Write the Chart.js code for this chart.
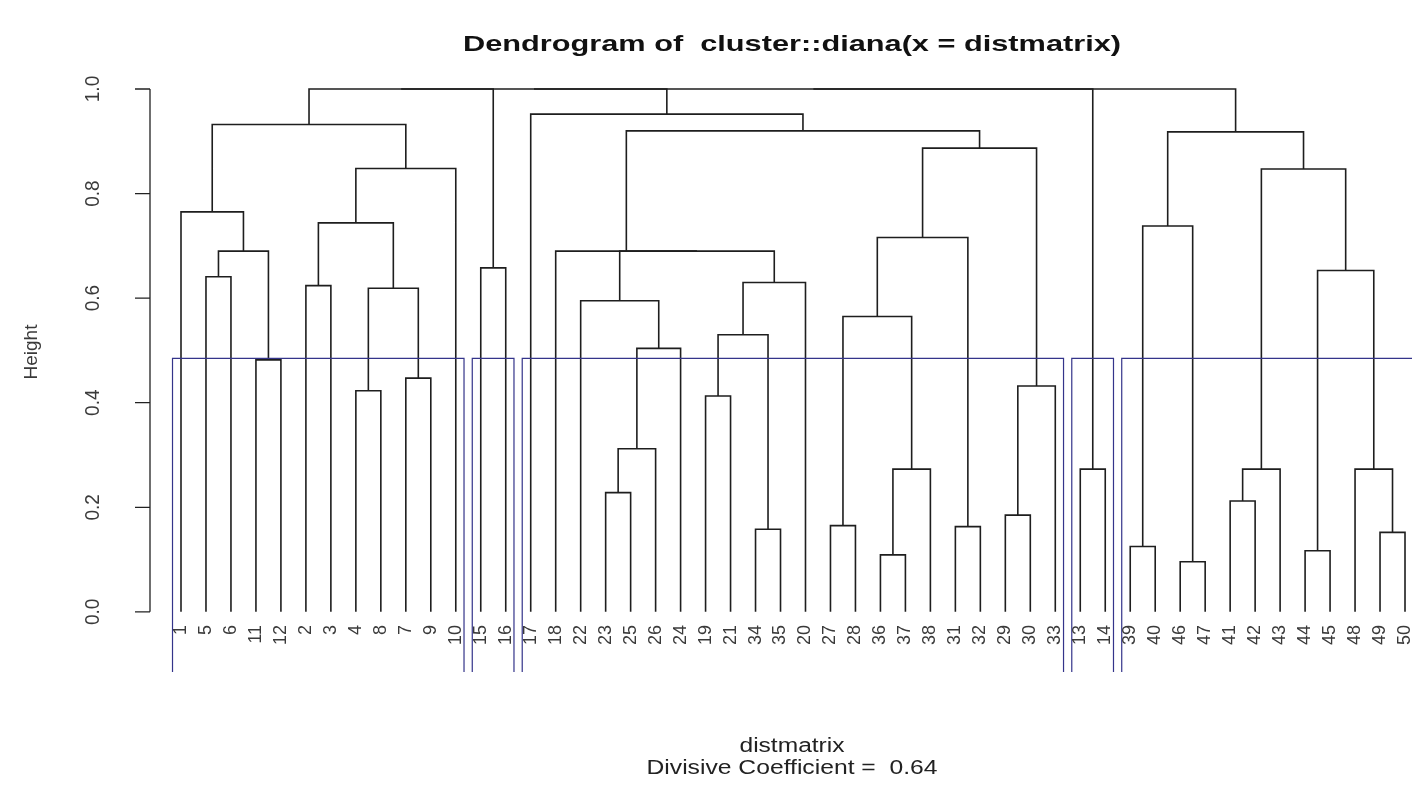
<!DOCTYPE html>
<html>
<head>
<meta charset="utf-8">
<script src="https://cdn.jsdelivr.net/npm/chart.js@4.4.1/dist/chart.umd.min.js"></script>
<style>
  html, body { margin: 0; padding: 0; background: #fff; }
  #chart { display: block; }
</style>
</head>
<body>
<canvas id="chart" width="1412" height="792"></canvas>
<script>
// leaf labels, in the order they appear along the x axis
const leafLabels = ['1','5','6','11','12','2','3','4','8','7','9','10','15','16','17','18','22','23','25','26','24','19','21','34','35','20','27','28','36','37','38','31','32','29','30','33','13','14','39','40','46','47','41','42','43','44','45','48','49','50'];

// merge table (R style): negative = leaf number, positive = earlier merge (1-based)
const mergeLeft  = [-5,-11, 1,-1,-2,-4,-7, 6, 5, 9, 4,-15,-23,13,14,-22,-19,-34,17,19,16,-18,-27,-36,24,23,-31,26,-29,29,28,22,-17,-13,-39,-46,35,-41,38,-44,-49,-48,40,39,37,11,46,47,48];
const mergeRight = [-6,-12, 2, 3,-3,-8,-9, 7, 8,-10,10,-16,-25,-26,-24,15,-21,-35,18,-20,20,21,-28,-37,-38,25,-32,27,-30,-33,30,31,32,-14,-40,-47,36,-42,-43,-45,-50,41,42,43,44,12,33,34,45];
const mergeHeight = [0.641,0.482,0.690,0.765,0.624,0.423,0.447,0.619,0.744,0.848,0.932,0.658,
  0.228,0.312,0.504,0.595,0.413,0.158,0.530,0.630,0.690,0.690,0.165,0.109,0.273,0.565,0.163,0.716,0.185,0.432,0.887,0.920,0.952,
  0.273,0.125,0.096,0.738,0.212,0.273,0.117,0.152,0.273,0.653,0.847,0.918,
  1.0,1.0,1.0,1.0];

// cluster boxes (k = 5)
const clusterSizes = [12, 2, 22, 2, 12];
const rectTop = 0.485;

// axis
const yTicks = [0, 0.2, 0.4, 0.6, 0.8, 1.0];
const yTickLabels = ['0.0', '0.2', '0.4', '0.6', '0.8', '1.0'];

const titleText = 'Dendrogram of  cluster::diana(x = distmatrix)';
const xLabText = 'distmatrix';
const subText = 'Divisive Coefficient =  0.64';
const yLabText = 'Height';

const Y_MIN = -0.115, Y_MAX = 1.044;
const X_MIN = -0.241, X_MAX = 50.28;
const FONT = '"Liberation Sans", Arial, sans-serif';

// work out node positions
const leafPos = {};
leafLabels.forEach((l, i) => { leafPos[l] = i + 1; });
const nodeX = [], nodeH = [];
function child(c) {
  if (c < 0) return { x: leafPos[String(-c)], y: 0 };
  return { x: nodeX[c - 1], y: nodeH[c - 1] };
}

const datasets = [];
// boxes first so they sit on top
let cum = 0;
for (let i = 0; i < clusterSizes.length; i++) {
  const x1 = cum + 0.66, x2 = cum + clusterSizes[i] + 0.33;
  cum += clusterSizes[i];
  datasets.push({
    data: [{x: x1, y: Y_MIN}, {x: x1, y: rectTop}, {x: x2, y: rectTop}, {x: x2, y: Y_MIN}],
    borderColor: '#34348a', borderWidth: 1.2, order: 0
  });
}
for (let k = 0; k < mergeHeight.length; k++) {
  const l = child(mergeLeft[k]), r = child(mergeRight[k]);
  const h = mergeHeight[k];
  nodeX.push((l.x + r.x) / 2);
  nodeH.push(h);
  datasets.push({
    data: [{x: l.x, y: l.y}, {x: l.x, y: h}, {x: r.x, y: h}, {x: r.x, y: r.y}],
    borderColor: '#1e1e1e', borderWidth: 1.6, order: 1
  });
}
datasets.forEach(d => { d.showLine = true; d.pointRadius = 0; d.tension = 0; d.fill = false; });

function fitText(ctx, text, cx, cy, width) {
  const w = ctx.measureText(text).width;
  ctx.save();
  ctx.translate(cx, cy);
  ctx.scale(width / w, 1);
  ctx.fillText(text, 0, 0);
  ctx.restore();
}

const textPlugin = {
  id: 'dendroText',
  afterDraw(chart) {
    const ctx = chart.ctx;
    const xs = chart.scales.x, ys = chart.scales.y;
    const left = chart.chartArea.left;
    ctx.save();
    // y axis line and ticks
    ctx.strokeStyle = '#222';
    ctx.lineWidth = 1.3;
    ctx.beginPath();
    ctx.moveTo(left, ys.getPixelForValue(yTicks[0]));
    ctx.lineTo(left, ys.getPixelForValue(yTicks[yTicks.length - 1]));
    yTicks.forEach(t => {
      const py = ys.getPixelForValue(t);
      ctx.moveTo(left, py);
      ctx.lineTo(left - 15, py);
    });
    ctx.stroke();

    ctx.fillStyle = '#3a3a3a';
    ctx.font = '19px ' + FONT;
    ctx.textAlign = 'center';
    ctx.textBaseline = 'middle';
    yTicks.forEach((t, i) => {
      ctx.save();
      ctx.translate(93, ys.getPixelForValue(t));
      ctx.scale(1.1, 1);
      ctx.rotate(-Math.PI / 2);
      ctx.fillText(yTickLabels[i], 0, 0);
      ctx.restore();
    });

    // y label
    ctx.save();
    ctx.translate(32, 352);
    ctx.rotate(-Math.PI / 2);
    ctx.font = '19px ' + FONT;
    ctx.fillText(yLabText, 0, 0);
    ctx.restore();

    // leaf labels
    ctx.font = '18px ' + FONT;
    ctx.textAlign = 'right';
    const y0 = ys.getPixelForValue(0);
    leafLabels.forEach((lab, i) => {
      ctx.save();
      ctx.translate(xs.getPixelForValue(i + 1), y0 + 13);
      ctx.rotate(-Math.PI / 2);
      ctx.fillText(lab, 0, 0);
      ctx.restore();
    });

    // title
    ctx.fillStyle = '#111';
    ctx.textAlign = 'center';
    ctx.font = 'bold 22px ' + FONT;
    fitText(ctx, titleText, 792, 45, 658);

    // x label and sub title
    ctx.fillStyle = '#222';
    ctx.font = '20px ' + FONT;
    fitText(ctx, xLabText, 792, 746, 105);
    fitText(ctx, subText, 792, 768, 291);
    ctx.restore();
  }
};

new Chart(document.getElementById('chart'), {
  type: 'scatter',
  data: { datasets: datasets },
  options: {
    responsive: false,
    animation: false,
    devicePixelRatio: 1,
    layout: { padding: { left: 150, right: 0, top: 66, bottom: 120 } },
    scales: {
      x: { type: 'linear', min: X_MIN, max: X_MAX, display: false },
      y: { type: 'linear', min: Y_MIN, max: Y_MAX, display: false }
    },
    plugins: { legend: { display: false }, tooltip: { enabled: false } },
    elements: { line: { borderCapStyle: 'butt' } }
  },
  plugins: [textPlugin]
});
</script>
</body>
</html>
